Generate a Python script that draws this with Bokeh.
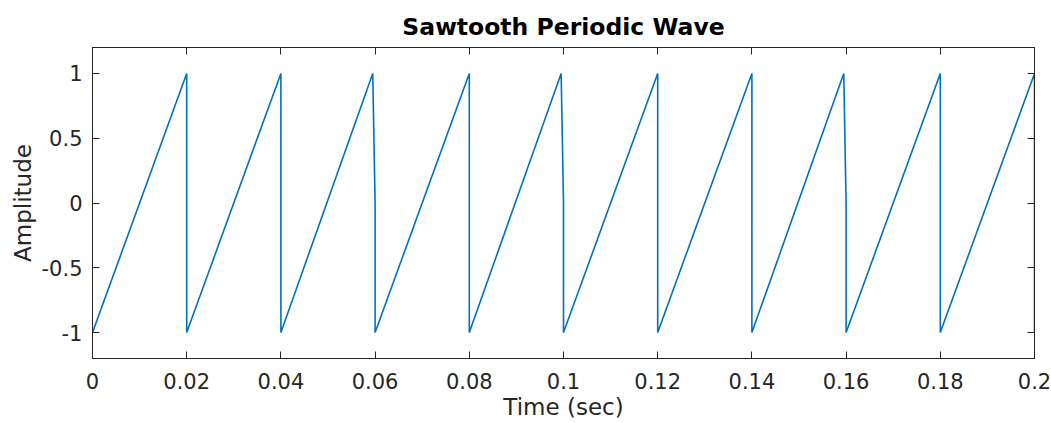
from bokeh.plotting import figure
from bokeh.models import LinearAxis, FixedTicker, Range1d, ColumnDataSource
from bokeh.embed import file_html
from bokeh.resources import INLINE

# Sawtooth vertices (50 Hz, amplitude -1..1)
time_sec = [0.0, 0.02, 0.02, 0.04, 0.04, 0.0595, 0.06, 0.06, 0.08, 0.08,
            0.0995, 0.1, 0.1, 0.12, 0.12, 0.14, 0.14, 0.1595, 0.16, 0.16,
            0.18, 0.18, 0.2, 0.2]
amplitude = [-1.0, 1.0, -1.0, 1.0, -1.0, 1.0, 0.0, -1.0, 1.0, -1.0,
             1.0, 0.0, -1.0, 1.0, -1.0, 1.0, -1.0, 1.0, 0.0, -1.0,
             1.0, -1.0, 1.0, -1.0]

x_ticks = [0, 0.02, 0.04, 0.06, 0.08, 0.1, 0.12, 0.14, 0.16, 0.18, 0.2]
x_tick_labels = ["0", "0.02", "0.04", "0.06", "0.08", "0.1", "0.12", "0.14", "0.16", "0.18", "0.2"]
y_ticks = [-1, -0.5, 0, 0.5, 1]
y_tick_labels = ["-1", "-0.5", "0", "0.5", "1"]

FONT = "DejaVu Sans"
AX = "#262626"

p = figure(width=1051, height=423, output_backend="svg", toolbar_location=None,
           x_range=Range1d(0, 0.2), y_range=Range1d(-1.2, 1.2),
           min_border_left=92, min_border_right=17, min_border_top=47, min_border_bottom=65,
           title="Sawtooth Periodic Wave")

p.title.text_font = FONT
p.title.text_font_size = "23.5px"
p.title.text_font_style = "bold"
p.title.text_color = "black"
p.title.align = "center"
p.title.standoff = 14

src = ColumnDataSource(dict(t=time_sec, a=amplitude))
p.line("t", "a", source=src, line_color="#0072BD", line_width=1.6)

p.xgrid.visible = False
p.ygrid.visible = False
p.outline_line_color = AX
p.outline_line_width = 1
p.outline_line_alpha = 1

def style(ax, ticks, labels, show_labels):
    ax.ticker = FixedTicker(ticks=ticks)
    ax.major_label_overrides = {t: l for t, l in zip(ticks, labels)}
    ax.minor_tick_line_color = None
    ax.major_tick_in = 7
    ax.major_tick_out = 0
    ax.major_tick_line_color = AX
    ax.axis_line_color = AX
    ax.major_label_text_font = FONT
    ax.major_label_text_color = AX
    ax.axis_label_text_font = FONT
    ax.axis_label_text_color = AX
    ax.axis_label_text_font_style = "normal"
    if show_labels:
        ax.major_label_text_font_size = "21px"
        ax.axis_label_text_font_size = "23px"
        ax.major_label_text_line_height = 1.0
        ax.axis_label_text_line_height = 1.0
    else:
        ax.major_label_text_font_size = "0px"
        ax.major_label_standoff = 0
        ax.axis_label_standoff = 0

xa = p.xaxis[0]
style(xa, x_ticks, x_tick_labels, True)
xa.axis_label = "Time (sec)"
xa.major_label_standoff = 14
xa.axis_label_standoff = 2

ya = p.yaxis[0]
style(ya, y_ticks, y_tick_labels, True)
ya.axis_label = "Amplitude"
ya.major_label_standoff = 10
ya.axis_label_standoff = 3

top = LinearAxis()
style(top, x_ticks, [""] * len(x_ticks), False)
p.add_layout(top, "above")

right = LinearAxis()
style(right, y_ticks, [""] * len(y_ticks), False)
p.add_layout(right, "right")

open("out.html", "w").write(file_html(p, INLINE))
